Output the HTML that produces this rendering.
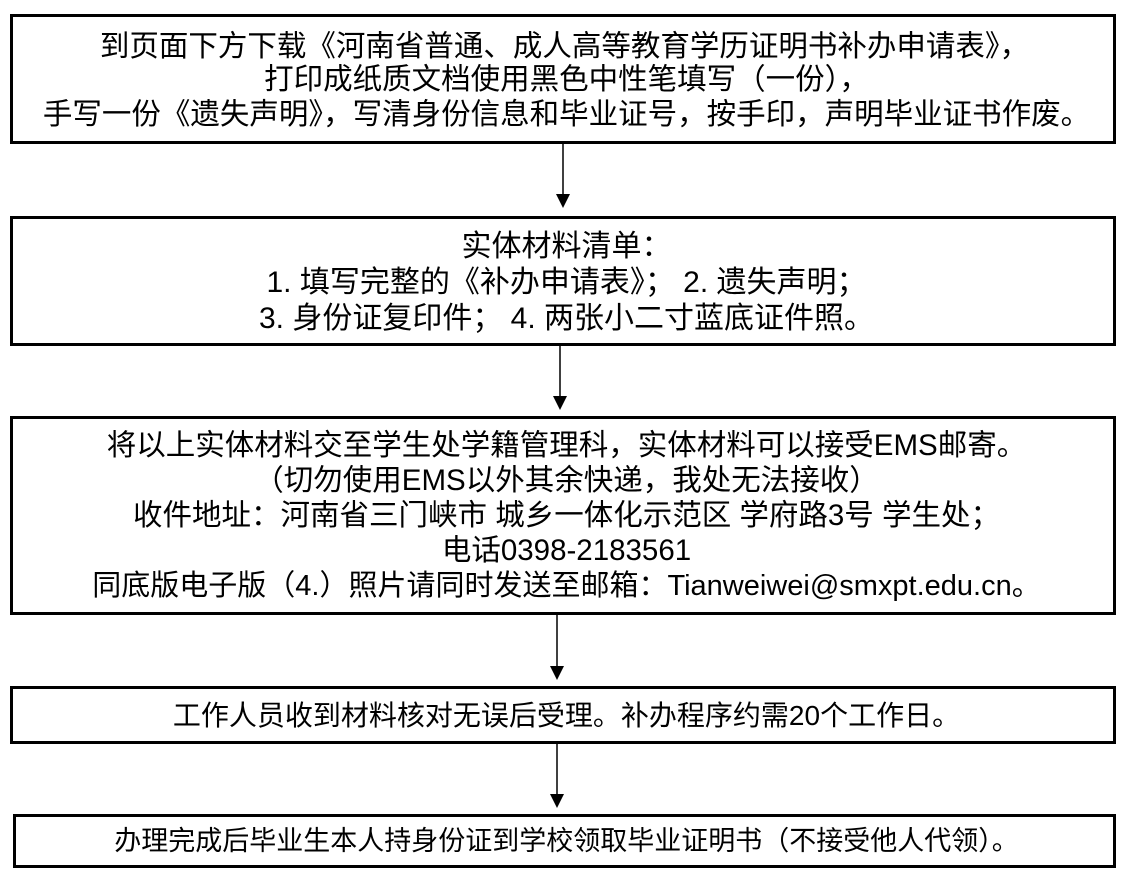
<!DOCTYPE html>
<html><head><meta charset="utf-8"><style>
body{margin:0;width:1133px;height:876px;background:#fff;position:relative;overflow:hidden;font-family:"Liberation Sans","Noto Sans CJK SC",sans-serif;color:#000}
.b{position:absolute;border:3px solid #000;box-sizing:border-box}
.t{position:absolute;left:0;width:1133px;text-align:center;font-size:29.5px;line-height:30px;white-space:nowrap}
svg{position:absolute;left:0;top:0}
</style></head><body>
<div class="b" style="left:10px;top:14px;width:1106px;height:130px"></div>
<div class="b" style="left:10px;top:216px;width:1106px;height:130px"></div>
<div class="b" style="left:10px;top:416px;width:1106px;height:199px"></div>
<div class="b" style="left:10px;top:686px;width:1106px;height:58px"></div>
<div class="b" style="left:13px;top:814px;width:1103px;height:54px"></div>

<div class="t" style="top:32px;left:-2px">到页面下方下载《河南省普通、成人高等教育学历证明书补办申请表》，</div>
<div class="t" style="top:65px">打印成纸质文档使用黑色中性笔填写（一份），</div>
<div class="t" style="top:100px">手写一份《遗失声明》，写清身份信息和毕业证号，按手印，声明毕业证书作废。</div>

<div class="t" style="top:232px;font-size:30px">实体材料清单：</div>
<div class="t" style="top:268px;font-size:30px">1. 填写完整的《补办申请表》； 2. 遗失声明；</div>
<div class="t" style="top:304px;font-size:30px">3. 身份证复印件； 4. 两张小二寸蓝底证件照。</div>

<div class="t" style="top:431px">将以上实体材料交至学生处学籍管理科，实体材料可以接受EMS邮寄。</div>
<div class="t" style="top:466px">（切勿使用EMS以外其余快递，我处无法接收）</div>
<div class="t" style="top:501px">收件地址：河南省三门峡市 城乡一体化示范区 学府路3号  学生处；</div>
<div class="t" style="top:536px">电话0398-2183561</div>
<div class="t" style="top:571px;font-size:29px">同底版电子版（4.）照片请同时发送至邮箱：Tianweiwei@smxpt.edu.cn。</div>

<div class="t" style="top:701px;font-size:28px">工作人员收到材料核对无误后受理。补办程序约需20个工作日。</div>
<div class="t" style="top:826px;font-size:27px">办理完成后毕业生本人持身份证到学校领取毕业证明书（不接受他人代领）。</div>

<svg width="1133" height="876">
<g stroke="#000" stroke-width="1.5">
<line x1="563" y1="144" x2="563" y2="196"/>
<line x1="560" y1="346" x2="560" y2="398"/>
<line x1="557" y1="615" x2="557" y2="668"/>
<line x1="557" y1="744" x2="557" y2="796"/>
</g>
<g fill="#000">
<polygon points="556,194 570,194 563,208"/>
<polygon points="553,396 567,396 560,410"/>
<polygon points="550,666 564,666 557,680"/>
<polygon points="550,794 564,794 557,808"/>
</g>
</svg>
</body></html>
